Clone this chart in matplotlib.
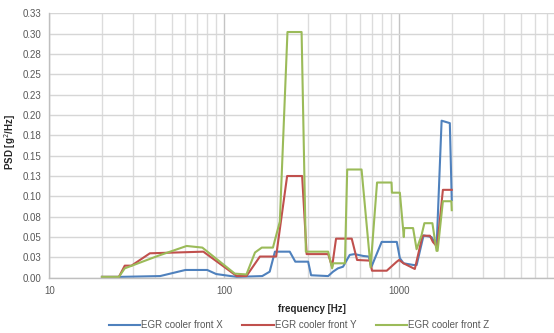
import matplotlib
matplotlib.use("Agg")
import matplotlib.pyplot as plt
from matplotlib.ticker import FixedLocator, NullFormatter

plt.rcParams['font.family'] = ['Liberation Sans', 'DejaVu Sans']

# ---- data ----
freq_x = [20, 25, 43, 60, 80, 90, 118, 165, 182, 195, 237, 255, 302, 314, 393, 419, 447, 478,
          522, 556, 624, 670, 695, 795, 970, 1010, 1060, 1210, 1260, 1380, 1530, 1640, 1750, 1950, 2000]
psd_x = [0.001, 0.001, 0.002, 0.0095, 0.0095, 0.0045, 0.001, 0.002, 0.0074, 0.032, 0.032, 0.0197,
         0.0197, 0.003, 0.002, 0.0074, 0.0115, 0.0135, 0.028, 0.029, 0.0267, 0.026, 0.0135, 0.044,
         0.044, 0.024, 0.0177, 0.0156, 0.0156, 0.052, 0.050, 0.040, 0.193, 0.190, 0.0955]

freq_y = [20, 25, 27, 29.5, 37.6, 76, 118, 134, 160, 198, 229, 279, 296, 393, 414, 436, 536, 575,
          680, 700, 850, 970, 1000, 1060, 1230, 1360, 1500, 1560, 1650, 1780, 2000]
psd_y = [0.001, 0.001, 0.0148, 0.0148, 0.030, 0.032, 0.002, 0.002, 0.026, 0.026, 0.125, 0.125,
         0.029, 0.029, 0.0135, 0.048, 0.048, 0.0218, 0.021, 0.0086, 0.0086, 0.0197, 0.0218, 0.0177,
         0.0107, 0.0516, 0.0516, 0.044, 0.038, 0.108, 0.108]

freq_z = [20, 25, 27, 42, 61, 75, 115, 134, 150, 164, 190, 208, 230, 277, 293, 393, 414, 420, 490,
          505, 610, 687, 748, 905, 910, 1010, 1064, 1070, 1202, 1259, 1343, 1395, 1550, 1637, 1660,
          1780, 1990, 2000]
psd_z = [0.001, 0.001, 0.0115, 0.027, 0.039, 0.037, 0.005, 0.004, 0.031, 0.037, 0.037, 0.069, 0.302,
         0.302, 0.032, 0.032, 0.0115, 0.0177, 0.0177, 0.133, 0.133, 0.0128, 0.117, 0.117, 0.1045,
         0.1045, 0.050, 0.061, 0.061, 0.035, 0.052, 0.067, 0.067, 0.033, 0.033, 0.094, 0.094, 0.083]

series_names = ["EGR cooler front X", "EGR cooler front Y", "EGR cooler front Z"]
y_ticks = [0.0, 0.025, 0.05, 0.075, 0.1, 0.125, 0.15, 0.175, 0.2, 0.225, 0.25, 0.275, 0.3, 0.325]
y_tick_labels = ['0.00', '0.03', '0.05', '0.08', '0.10', '0.13', '0.15', '0.18', '0.20', '0.23',
                 '0.25', '0.28', '0.30', '0.33']
x_ticks = [10, 100, 1000]
x_tick_labels = ['10', '100', '1000']

colors = ['#4F81BD', '#C0504D', '#9BBB59']

fig = plt.figure(figsize=(5.54, 3.33), dpi=100)
W, H = 554, 333
x0, x1 = 49.3, 574.0
ytop, ybot = 13.3, 277.7
ax = fig.add_axes([x0 / W, (H - ybot) / H, (x1 - x0) / W, (ybot - ytop) / H])

ax.set_xscale('log')
ax.set_xlim(10, 10000)
ax.set_ylim(0, 0.325)

# grid
ax.set_xticks(x_ticks)
ax.set_xticklabels(x_tick_labels)
minor = [m * d for d in (10, 100, 1000) for m in range(2, 10)]
ax.xaxis.set_minor_locator(FixedLocator(minor))
ax.xaxis.set_minor_formatter(NullFormatter())
ax.set_yticks(y_ticks)
ax.set_yticklabels(y_tick_labels)
ax.grid(which='major', axis='x', color='#c4c4c4', linewidth=1.0)
ax.grid(which='major', axis='y', color='#d6d6d6', linewidth=1.0)
ax.grid(which='minor', axis='x', color='#dcdcdc', linewidth=1.0)
ax.set_axisbelow(True)
ax.tick_params(which='both', length=0, labelsize=7, colors='#595959', pad=6)
for s in ('top', 'right'):
    ax.spines[s].set_visible(False)
for s in ('left', 'bottom'):
    ax.spines[s].set_color('#bfbfbf')
    ax.spines[s].set_linewidth(1.0)

lines = []
for f, v, c, n in zip([freq_x, freq_y, freq_z], [psd_x, psd_y, psd_z], colors, series_names):
    ln, = ax.plot(f, v, color=c, linewidth=1.5, label=n)
    lines.append(ln)

ax.set_xlabel('frequency [Hz]', fontsize=7, fontweight='bold', color='#262626')
ax.xaxis.set_label_coords((311.5 - x0) / (x1 - x0), (ybot - 304.5) / (ybot - ytop))
ax.set_ylabel('PSD [g$^2$/Hz]', fontsize=7, fontweight='bold', color='#262626')
ax.yaxis.set_label_coords((17.5 - x0) / (x1 - x0), (ybot - 142) / (ybot - ytop))

fig.legend(handles=lines, loc='center', bbox_to_anchor=(299 / W, 1 - 325.5 / H), ncol=3,
           frameon=False, fontsize=7, handlelength=3.2, columnspacing=2.0, handletextpad=0.1,
           labelcolor='#595959')

fig.savefig('out.png', dpi=100)
